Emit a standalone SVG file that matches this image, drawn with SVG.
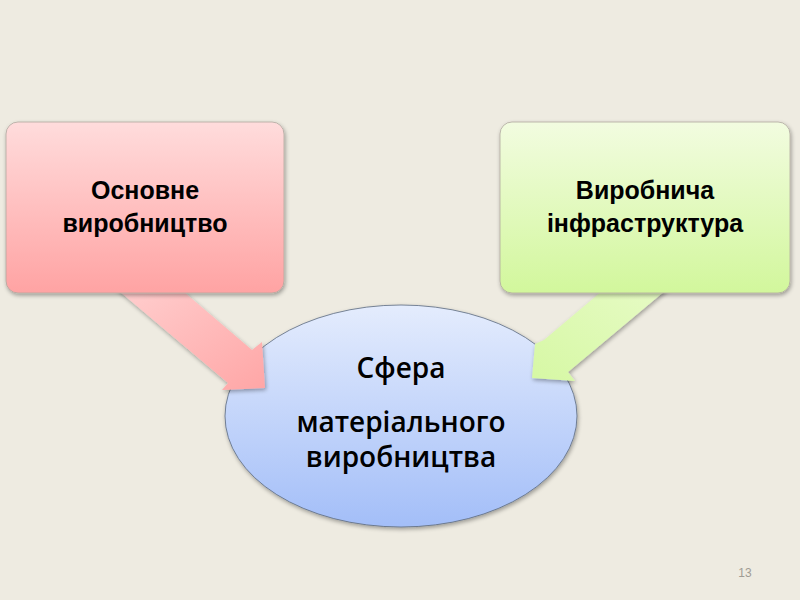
<svg xmlns="http://www.w3.org/2000/svg" width="800" height="600" viewBox="0 0 800 600">
<defs>
<linearGradient id="gPink" x1="0" y1="0" x2="0" y2="1"><stop offset="0" stop-color="#FFDCDC"/><stop offset="1" stop-color="#FFA3A3"/></linearGradient>
<linearGradient id="gGreen" x1="0" y1="0" x2="0" y2="1"><stop offset="0" stop-color="#F2FCE0"/><stop offset="1" stop-color="#D2F79C"/></linearGradient>
<linearGradient id="gBlue" x1="0" y1="0" x2="0" y2="1"><stop offset="0" stop-color="#E4ECFD"/><stop offset="1" stop-color="#A3BEF8"/></linearGradient>
<linearGradient id="aPink" x1="0" y1="0" x2="1" y2="1"><stop offset="0" stop-color="#FFD2D2"/><stop offset="1" stop-color="#FFA6A6"/></linearGradient>
<linearGradient id="aGreen" x1="1" y1="0" x2="0" y2="1"><stop offset="0" stop-color="#E8FBC8"/><stop offset="1" stop-color="#D6F8A4"/></linearGradient>
<filter id="sh" x="-10%" y="-10%" width="120%" height="125%"><feGaussianBlur in="SourceAlpha" stdDeviation="2"/><feOffset dx="1" dy="2"/><feComponentTransfer><feFuncA type="linear" slope="0.35"/></feComponentTransfer><feMerge><feMergeNode/><feMergeNode in="SourceGraphic"/></feMerge></filter>
</defs>
<style>
.box{stroke:#B0A8A0;stroke-width:0.8;filter:url(#sh)}
.t{font-family:"Liberation Sans",Arial,sans-serif;font-weight:bold;font-size:25px;fill:#000;text-anchor:middle}
.c{font-family:"Open Sans","Liberation Sans",sans-serif;font-weight:600;font-size:28px;fill:#000;text-anchor:middle}
</style>
<rect width="800" height="600" fill="#EEEBE1"/>
<g id="node-sfera">
<ellipse cx="401" cy="416" rx="176" ry="111" fill="url(#gBlue)" stroke="#5A6A80" stroke-width="0.8" filter="url(#sh)"/>
<text class="c" x="401" y="378">Сфера</text>
<text class="c" x="401" y="432">матеріального</text>
<text class="c" x="401" y="467">виробництва</text>
</g>
<g id="connectors">
<polygon points="106,280 170,280 252,350 262,342 265,388 222,390 228,383" fill="url(#aPink)" filter="url(#sh)"/>
<polygon points="615,280 678,280 568,372 575,381 532,378 535,344 544,340" fill="url(#aGreen)" filter="url(#sh)"/>
</g>
<g id="node-osnovne">
<rect class="box" x="6" y="122" width="278" height="171" rx="12" fill="url(#gPink)"/>
<text class="t" x="145" y="199">Основне</text>
<text class="t" x="145" y="232">виробництво</text>
</g>
<g id="node-infra">
<rect class="box" x="500" y="122" width="290" height="171" rx="12" fill="url(#gGreen)"/>
<text class="t" x="645" y="199">Виробнича</text>
<text class="t" x="645" y="232">інфраструктура</text>
</g>
<text x="745" y="577" font-family="Liberation Sans,Arial,sans-serif" font-size="12" fill="#A09C94" text-anchor="middle">13</text>
</svg>
